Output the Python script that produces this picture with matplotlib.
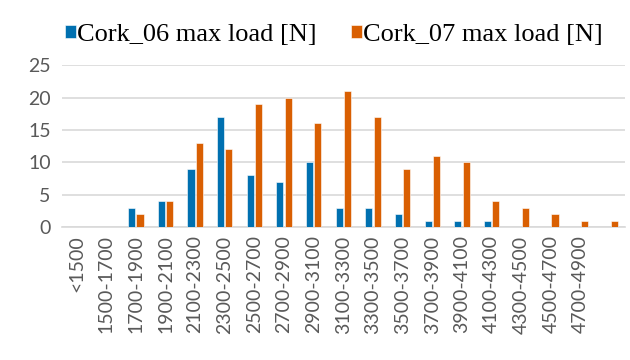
import numpy as np
import matplotlib
matplotlib.use("Agg")
import matplotlib.pyplot as plt

categories = ["<1500", "1500-1700", "1700-1900", "1900-2100", "2100-2300",
              "2300-2500", "2500-2700", "2700-2900", "2900-3100", "3100-3300",
              "3300-3500", "3500-3700", "3700-3900", "3900-4100", "4100-4300",
              "4300-4500", "4500-4700", "4700-4900", ""]
cork_06 = [0, 0, 3, 4, 9, 17, 8, 7, 10, 3, 3, 2, 1, 1, 1, 0, 0, 0, 0]
cork_07 = [0, 0, 2, 4, 13, 12, 19, 20, 16, 21, 17, 9, 11, 10, 4, 3, 2, 1, 1]

blue = "#0070B0"
orange = "#D95F02"
tick_grey = "#595959"

fig = plt.figure(figsize=(6.3, 3.6), dpi=100)
ax = fig.add_axes([0.098, 0.369, 0.894, 0.45])

x = np.arange(len(categories))
w = 0.24
ax.bar(x - w / 2 - 0.02, cork_06, w, color=blue, edgecolor="white",
       linewidth=0.4, label="Cork_06 max load [N]", zorder=3)
ax.bar(x + w / 2 + 0.02, cork_07, w, color=orange, edgecolor="white",
       linewidth=0.4, label="Cork_07 max load [N]", zorder=3)

ax.set_xlim(-0.5, len(categories) - 0.5)
ax.set_ylim(0, 25)
ax.set_yticks([0, 5, 10, 15, 20, 25])
ax.yaxis.grid(True, color="#D9D9D9", linewidth=1.2, zorder=0)
ax.set_axisbelow(True)
for s in ["top", "right", "left"]:
    ax.spines[s].set_visible(False)
ax.spines["bottom"].set_color("#D9D9D9")
ax.spines["bottom"].set_linewidth(1.2)

ax.set_xticks(x)
ax.set_xticklabels(categories, rotation=90, fontfamily="Lato",
                   fontsize=14, color=tick_grey)
ax.tick_params(axis="x", length=0, pad=6)
ax.tick_params(axis="y", length=0, pad=8)
for lab in ax.get_yticklabels():
    lab.set_fontfamily("Lato")
    lab.set_fontsize(14)
    lab.set_color(tick_grey)

fig.legend(loc="upper center", bbox_to_anchor=(0.53, 1.0), ncol=2,
           frameon=False, prop={"family": "Liberation Serif", "size": 19},
           handlelength=0.4, handleheight=0.4, handletextpad=0.05,
           columnspacing=1.3)

fig.savefig("out.png", dpi=100)
